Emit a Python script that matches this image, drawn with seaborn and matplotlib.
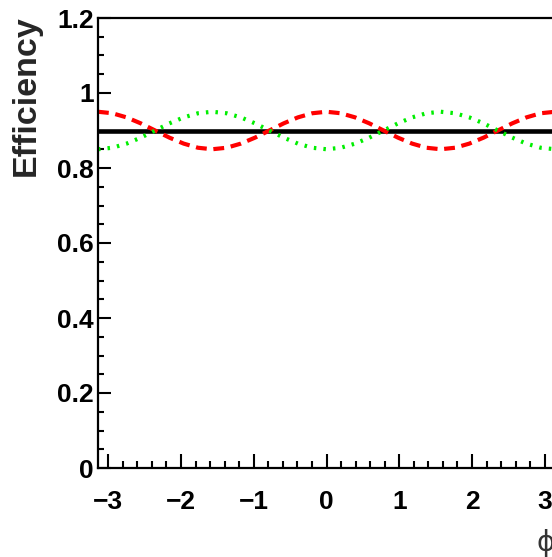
import matplotlib
matplotlib.use("Agg")
import matplotlib.pyplot as plt
from matplotlib.ticker import MultipleLocator, FuncFormatter
import seaborn as sns

# Azimuthal angle samples (rad) and the three efficiency curves
phi = [-3.142, -2.945, -2.749, -2.553, -2.356, -2.160, -1.963, -1.767, -1.571,
       -1.374, -1.178, -0.982, -0.785, -0.589, -0.393, -0.196, 0.000,
       0.196, 0.393, 0.589, 0.785, 0.982, 1.178, 1.374, 1.571,
       1.767, 1.963, 2.160, 2.356, 2.553, 2.749, 2.945, 3.142]
eff_flat = [0.900] * 33
eff_cos = [0.950, 0.946, 0.935, 0.919, 0.900, 0.881, 0.865, 0.854, 0.850,
           0.854, 0.865, 0.881, 0.900, 0.919, 0.935, 0.946, 0.950,
           0.946, 0.935, 0.919, 0.900, 0.881, 0.865, 0.854, 0.850,
           0.854, 0.865, 0.881, 0.900, 0.919, 0.935, 0.946, 0.950]
eff_sin = [0.850, 0.854, 0.865, 0.881, 0.900, 0.919, 0.935, 0.946, 0.950,
           0.946, 0.935, 0.919, 0.900, 0.881, 0.865, 0.854, 0.850,
           0.854, 0.865, 0.881, 0.900, 0.919, 0.935, 0.946, 0.950,
           0.946, 0.935, 0.919, 0.900, 0.881, 0.865, 0.854, 0.850]

x_ticks = [-3, -2, -1, 0, 1, 2, 3]
y_ticks = [0, 0.2, 0.4, 0.6, 0.8, 1.0, 1.2]

sns.set_theme(style="white")
plt.rcParams["font.family"] = ["Liberation Sans", "DejaVu Sans"]

W, H = 552, 557
fig = plt.figure(figsize=(W / 100, H / 100), dpi=100)
left, right, top, bottom = 98, 555, 18, 468
ax = fig.add_axes([left / W, 1 - bottom / H, (right - left) / W, (bottom - top) / H])

sns.lineplot(x=phi, y=eff_flat, ax=ax, color="black", linewidth=3.3,
             estimator=None, sort=False)
sns.lineplot(x=phi, y=eff_cos, ax=ax, color="#ff0000", linewidth=3.0,
             linestyle=(0, (2.6, 1.6)), estimator=None, sort=False)
sns.lineplot(x=phi, y=eff_sin, ax=ax, color="#00ee00", linewidth=3.0,
             linestyle=(0, (0.6, 1.7)), estimator=None, sort=False)

ax.set_xlim(-3.1416, 3.1416)
ax.set_ylim(0, 1.2)

for side in ["left", "bottom", "top", "right"]:
    ax.spines[side].set_visible(True)
    ax.spines[side].set_color("black")
    ax.spines[side].set_linewidth(1.6)

ax.set_xticks(x_ticks)
ax.set_yticks(y_ticks)
ax.xaxis.set_minor_locator(MultipleLocator(0.2))
ax.yaxis.set_minor_locator(MultipleLocator(0.05))
ax.yaxis.set_major_formatter(FuncFormatter(lambda v, p: "%g" % round(v, 2)))
ax.xaxis.set_major_formatter(FuncFormatter(lambda v, p: ("\u2212%g" % -v) if v < 0 else "%g" % v))

ax.tick_params(axis="both", which="both", direction="in", color="black",
               width=1.5, labelsize=19, labelcolor="black")
ax.tick_params(axis="y", which="major", length=9.2, pad=3)
ax.tick_params(axis="y", which="minor", length=4.5)
ax.tick_params(axis="x", which="major", length=10, pad=16)
ax.tick_params(axis="x", which="minor", length=5)
ax.tick_params(left=True, bottom=True, top=False, right=False,
               which="both")
for lab in ax.get_xticklabels() + ax.get_yticklabels():
    lab.set_fontweight("bold")

ax.set_ylabel("Efficiency", fontsize=24.5, fontweight="bold", loc="top")
ax.yaxis.set_label_coords(-0.123, 1.006)
ax.text(1.0, -0.167, "\u03d5", transform=ax.transAxes, ha="right",
        va="center", fontsize=20, color="#333333", family="DejaVu Sans")

fig.savefig("out.png", dpi=100)
